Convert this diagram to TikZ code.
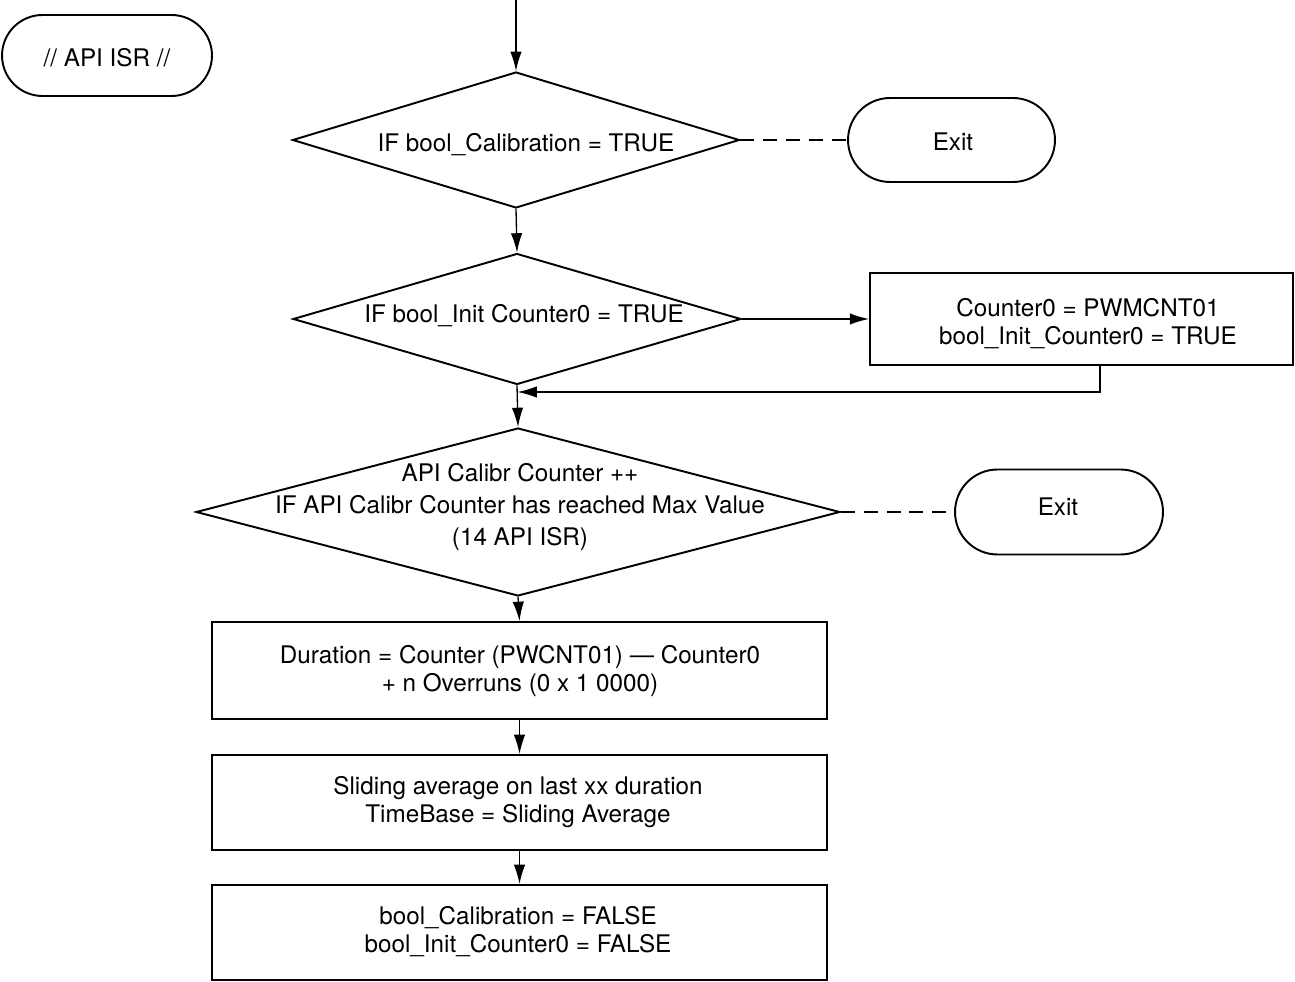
\documentclass[tikz,border=0pt]{standalone}
\usepackage{fontspec}
\setmainfont{TeX Gyre Heros}
\usetikzlibrary{shapes.geometric,shapes.misc,arrows.meta}

\tikzset{
  box/.style={draw, line width=1.1pt, rectangle, inner sep=0pt},
  terminal/.style={draw, line width=1.1pt, rounded rectangle, inner sep=0pt},
  decision/.style={draw, line width=1.1pt, diamond, inner sep=0pt, aspect=3.3},
  txt/.style={align=center, inner sep=0pt, font=\fontsize{13.8}{15.9}\selectfont},
  flow/.style={line width=0.75pt, -{Latex[length=11pt,width=6.5pt]}},
  nojump/.style={line width=0.75pt, dash pattern=on 8pt off 5pt}
}

\begin{document}
\begin{tikzpicture}[x=0.02cm, y=-0.02cm]
  \useasboundingbox (0,0) rectangle (1295,982);

  % Inicio
  \node[terminal, minimum width=4.2cm, minimum height=1.62cm] (isr) at (107,55.5) {};
  \node[txt] at (107,58) {// API ISR //};
  \coordinate (start) at (516,0);

  % Decisoes
  \node[decision, minimum width=8.94cm, minimum height=2.72cm] (calib) at (516,140) {};
  \node[txt] at (526,145) {IF bool\_Calibration = TRUE};

  \node[decision, minimum width=8.96cm, minimum height=2.62cm] (init) at (517,319) {};
  \node[txt] at (524,316) {IF bool\_Init Counter0 = TRUE};

  \node[decision, minimum width=12.88cm, minimum height=3.36cm] (count) at (518,512) {};
  \node[txt, font=\fontsize{13.8}{18}\selectfont] at (520,507)
    {API Calibr Counter ++\\IF API Calibr Counter has reached Max Value\\(14 API ISR)};

  % Saidas
  \node[terminal, minimum width=4.14cm, minimum height=1.68cm] (exitA) at (951.5,140) {};
  \node[txt] at (953,142) {Exit};
  \node[terminal, minimum width=4.16cm, minimum height=1.7cm] (exitB) at (1059,512) {};
  \node[txt] at (1058,507) {Exit};

  % Caixas
  \node[box, minimum width=8.46cm, minimum height=1.84cm] (cnt) at (1081.5,319) {};
  \node[txt] at (1088,324) {Counter0 = PWMCNT01\\bool\_Init\_Counter0 = TRUE};

  \node[box, minimum width=12.3cm, minimum height=1.94cm] (dur) at (519.5,670.5) {};
  \node[txt] at (520,671) {Duration = Counter (PWCNT01) --- Counter0\\+ n Overruns (0 x 1 0000)};

  \node[box, minimum width=12.3cm, minimum height=1.9cm] (avg) at (519.5,802.5) {};
  \node[txt] at (518,802) {Sliding average on last xx duration\\TimeBase = Sliding Average};

  \node[box, minimum width=12.3cm, minimum height=1.9cm] (reset) at (519.5,932.5) {};
  \node[txt] at (518,932) {bool\_Calibration = FALSE\\bool\_Init\_Counter0 = FALSE};

  % Ligacoes
  \coordinate (back) at (1100,366);
  \coordinate (join) at (517.5,392);
  \draw[flow] (start) -- (calib.north);
  \draw[flow] (calib.south) -- (init.north);
  \draw[flow] (init.east) -- (cnt.west);
  \draw[flow] (back) |- (join);
  \draw[flow] (init.south) -- (count.north);
  \draw[flow] (count.south) -- (dur.north);
  \draw[flow] (dur.south) -- (avg.north);
  \draw[flow] (avg.south) -- (reset.north);
  \draw[nojump] (calib.east) -- (exitA.west);
  \draw[nojump] (count.east) -- (exitB.west);
\end{tikzpicture}
\end{document}
